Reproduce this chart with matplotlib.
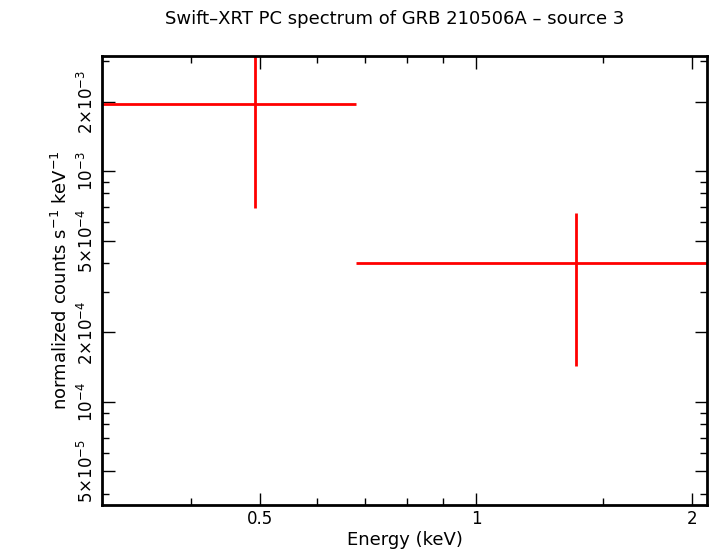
import matplotlib
matplotlib.use("Agg")
import matplotlib.pyplot as plt
from matplotlib.ticker import FixedLocator, FixedFormatter, NullFormatter

x = [0.492, 1.376]
x_lo = [0.300, 0.680]
x_hi = [0.680, 2.15]
y = [1.95e-3, 4.0e-4]
y_lo = [6.9e-4, 1.43e-4]
y_hi = [3.5e-3, 6.6e-4]

yticks = [5e-5, 1e-4, 2e-4, 5e-4, 1e-3, 2e-3]
ylabels = [r"5$\times$10$^{-5}$", r"10$^{-4}$", r"2$\times$10$^{-4}$",
           r"5$\times$10$^{-4}$", r"10$^{-3}$", r"2$\times$10$^{-3}$"]
xticks = [0.5, 1, 2]
xlabels = ["0.5", "1", "2"]

fig = plt.figure(figsize=(7.11, 5.56), dpi=100)
ax = fig.add_axes([102/711, 1-505/556, 605/711, 449/556])
ax.set_xscale("log"); ax.set_yscale("log")
ax.set_xlim(0.301, 2.097); ax.set_ylim(3.58e-5, 3.15e-3)
for xi, a, b, yi, c, d in zip(x, x_lo, x_hi, y, y_lo, y_hi):
    ax.errorbar(xi, yi, xerr=[[xi-a], [b-xi]], yerr=[[yi-c], [d-yi]],
                fmt="none", ecolor="red", elinewidth=2, capsize=0, clip_on=True)
ax.xaxis.set_major_locator(FixedLocator(xticks))
ax.xaxis.set_major_formatter(FixedFormatter(xlabels))
ax.xaxis.set_minor_locator(FixedLocator([0.3,0.4,0.6,0.7,0.8,0.9,1.5]))
ax.xaxis.set_minor_formatter(NullFormatter())
ax.yaxis.set_major_locator(FixedLocator(yticks))
ax.yaxis.set_major_formatter(FixedFormatter(ylabels))
ax.yaxis.set_minor_locator(FixedLocator([4e-5,6e-5,7e-5,8e-5,9e-5,3e-4,4e-4,6e-4,7e-4,8e-4,9e-4,3e-3]))
ax.yaxis.set_minor_formatter(NullFormatter())
ax.tick_params(which="both", direction="in", top=True, right=True, labelsize=12)
ax.tick_params(which="major", length=9, width=1)
ax.tick_params(which="minor", length=5, width=1)
for lab in ax.get_yticklabels():
    lab.set_rotation(90); lab.set_va("center")
for s in ax.spines.values():
    s.set_linewidth(2)
ax.set_xlabel("Energy (keV)", fontsize=13, labelpad=2)
ax.set_ylabel(r"normalized counts s$^{-1}$ keV$^{-1}$", fontsize=13)
fig.text(0.555, 0.965, "Swift\u2013XRT PC spectrum of GRB 210506A \u2013 source 3",
         ha="center", va="center", fontsize=13)
fig.savefig("out.png", dpi=100)
